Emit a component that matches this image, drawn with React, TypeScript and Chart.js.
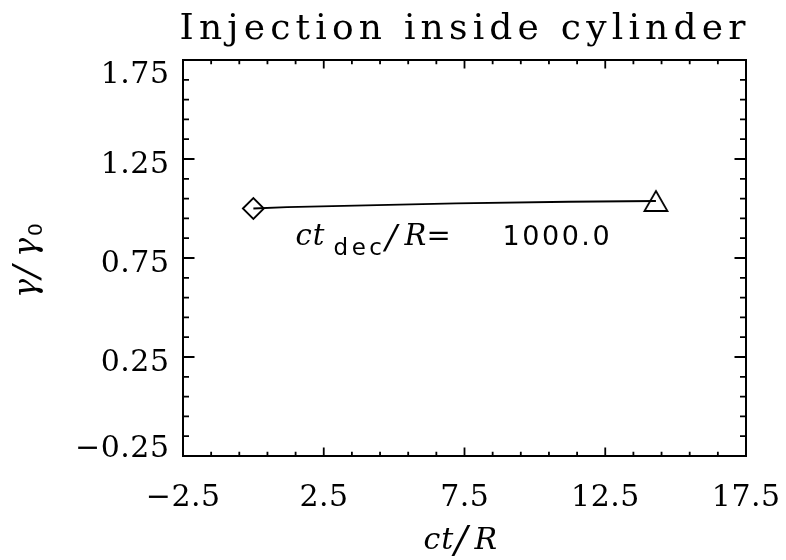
import React, { useEffect, useRef } from "react";
import { Chart, registerables } from "chart.js";

Chart.register(...registerables);

// ---- data ----
const ctOverR = [0, 1.2, 4.0, 7.2, 11.2, 14.3];
const gammaRatio = [1.0, 1.007, 1.016, 1.026, 1.034, 1.038];
const startMarker = [{ x: 0, y: 1.0 }];
const endMarker = [{ x: 14.3, y: 1.038 }];

const xRange = [-2.5, 17.5];
const yRange = [-0.25, 1.75];
const xTicks = [-2.5, 2.5, 7.5, 12.5, 17.5];
const yTicks = [-0.25, 0.25, 0.75, 1.25, 1.75];
const xTickLabels = ["\u22122.5", "2.5", "7.5", "12.5", "17.5"];
const yTickLabels = ["\u22120.25", "0.25", "0.75", "1.25", "1.75"];
const minorPerMajor = 5;

const titleText = "Injection inside cylinder";
const decValue = "1000.0";
const annotationAt = { x: 1.5, y: 0.816 };

const SERIF = '"DejaVu Serif", "Liberation Serif", serif';
const SANS = '"DejaVu Sans", "Liberation Sans", sans-serif';

function drawSpaced(
  ctx: CanvasRenderingContext2D,
  text: string,
  x: number,
  y: number,
  ls: number,
  align: "left" | "center" | "right"
) {
  const chars = Array.from(text);
  ctx.textAlign = "left";
  let w = 0;
  const widths = chars.map((c) => ctx.measureText(c).width);
  widths.forEach((cw) => (w += cw));
  w += ls * (chars.length - 1);
  let cx = align === "center" ? x - w / 2 : align === "right" ? x - w : x;
  chars.forEach((c, i) => {
    ctx.fillText(c, cx, y);
    cx += widths[i] + ls;
  });
  return w;
}

function makeTriangle() {
  const c = document.createElement("canvas");
  c.width = 28;
  c.height = 24;
  const g = c.getContext("2d")!;
  g.strokeStyle = "#000";
  g.lineWidth = 1.8;
  g.beginPath();
  g.moveTo(14, 2);
  g.lineTo(25.5, 22);
  g.lineTo(2.5, 22);
  g.closePath();
  g.stroke();
  return c;
}

const framePlugin = {
  id: "idlFrame",
  afterDraw(chart: any) {
    const ctx: CanvasRenderingContext2D = chart.ctx;
    const { left, right, top, bottom } = chart.chartArea;
    const xs = chart.scales.x;
    const ys = chart.scales.y;
    ctx.save();
    ctx.strokeStyle = "#000";
    ctx.fillStyle = "#000";
    ctx.lineWidth = 2;
    ctx.strokeRect(left, top, right - left, bottom - top);

    // ticks (inward, on all four sides)
    ctx.lineWidth = 1.8;
    const xMaj = 8.5, xMin = 4.2, yMaj = 11.5, yMin = 6;
    ctx.beginPath();
    for (let i = 0; i < xTicks.length; i++) {
      const px = xs.getPixelForValue(xTicks[i]);
      ctx.moveTo(px, bottom); ctx.lineTo(px, bottom - xMaj);
      ctx.moveTo(px, top); ctx.lineTo(px, top + xMaj);
      if (i < xTicks.length - 1) {
        const step = (xTicks[i + 1] - xTicks[i]) / minorPerMajor;
        for (let k = 1; k < minorPerMajor; k++) {
          const mx = xs.getPixelForValue(xTicks[i] + k * step);
          ctx.moveTo(mx, bottom); ctx.lineTo(mx, bottom - xMin);
          ctx.moveTo(mx, top); ctx.lineTo(mx, top + xMin);
        }
      }
    }
    for (let i = 0; i < yTicks.length; i++) {
      const py = ys.getPixelForValue(yTicks[i]);
      ctx.moveTo(left, py); ctx.lineTo(left + yMaj, py);
      ctx.moveTo(right, py); ctx.lineTo(right - yMaj, py);
      if (i < yTicks.length - 1) {
        const step = (yTicks[i + 1] - yTicks[i]) / minorPerMajor;
        for (let k = 1; k < minorPerMajor; k++) {
          const my = ys.getPixelForValue(yTicks[i] + k * step);
          ctx.moveTo(left, my); ctx.lineTo(left + yMin, my);
          ctx.moveTo(right, my); ctx.lineTo(right - yMin, my);
        }
      }
    }
    ctx.stroke();

    ctx.textBaseline = "alphabetic";
    // title
    ctx.font = `36px ${SERIF}`;
    drawSpaced(ctx, titleText, (left + right) / 2 - 2, 38.5, 5.2, "center");

    // tick labels
    ctx.font = `30px ${SERIF}`;
    xTicks.forEach((v, i) => {
      drawSpaced(ctx, xTickLabels[i], xs.getPixelForValue(v), 505.5, 0.5, "center");
    });
    yTicks.forEach((v, i) => {
      const py = ys.getPixelForValue(v);
      const base = Math.max(Math.min(py + 14, bottom + 0.5), top + 23);
      drawSpaced(ctx, yTickLabels[i], left - 14, base, 0.5, "right");
    });

    // x title: ct/R
    const cx = (left + right) / 2;
    ctx.font = `italic 30px ${SERIF}`;
    drawSpaced(ctx, "ct", cx - 41, 549, 1, "left");
    ctx.font = `italic 38px ${SERIF}`;
    drawSpaced(ctx, "/", cx - 10, 552, 0, "left");
    ctx.font = `italic 30px ${SERIF}`;
    drawSpaced(ctx, "R", cx + 10, 549, 0, "left");

    // y title: γ/γ0 (rotated)
    const cy = (top + bottom) / 2;
    ctx.save();
    ctx.translate(36, cy + 40);
    ctx.rotate(-Math.PI / 2);
    ctx.font = `italic 32px ${SERIF}`;
    drawSpaced(ctx, "\u03B3", 0, 0, 0, "left");
    ctx.font = `italic 36px ${SERIF}`;
    drawSpaced(ctx, "/", 20, 2, 0, "left");
    ctx.font = `italic 32px ${SERIF}`;
    drawSpaced(ctx, "\u03B3", 41, 0, 0, "left");
    ctx.font = `20px ${SANS}`;
    drawSpaced(ctx, "0", 62, 6, 0, "left");
    ctx.restore();

    // annotation
    const ax = xs.getPixelForValue(annotationAt.x);
    const ay = ys.getPixelForValue(annotationAt.y);
    ctx.font = `italic 29px ${SERIF}`;
    drawSpaced(ctx, "ct", ax, ay, 1, "left");
    ctx.font = `23px ${SANS}`;
    drawSpaced(ctx, "dec", ax + 38, ay + 10, 3.5, "left");
    ctx.font = `italic 34px ${SERIF}`;
    drawSpaced(ctx, "/", ax + 90, ay + 4, 0, "left");
    ctx.font = `italic 29px ${SERIF}`;
    drawSpaced(ctx, "R", ax + 109, ay, 0, "left");
    ctx.font = `29px ${SERIF}`;
    drawSpaced(ctx, "=", ax + 131, ay, 0, "left");
    ctx.font = `27px ${SANS}`;
    drawSpaced(ctx, decValue, ax + 207, ay, 2.5, "left");

    ctx.restore();
  },
};

export default function App() {
  const ref = useRef<HTMLCanvasElement | null>(null);
  useEffect(() => {
    if (!ref.current) return;
    const chart = new Chart(ref.current, {
      type: "scatter",
      data: {
        datasets: [
          {
            data: ctOverR.map((x, i) => ({ x, y: gammaRatio[i] })),
            showLine: true,
            borderColor: "#000",
            borderWidth: 1.8,
            pointRadius: 0,
            tension: 0,
          },
          {
            data: startMarker,
            pointStyle: "rectRot",
            pointRadius: 10.5,
            borderColor: "#000",
            borderWidth: 1.8,
            backgroundColor: "rgba(0,0,0,0)",
          },
          {
            data: endMarker,
            pointStyle: makeTriangle() as any,
            pointRadius: 12,
            borderColor: "#000",
            backgroundColor: "rgba(0,0,0,0)",
          },
        ],
      },
      options: {
        responsive: false,
        animation: false,
        devicePixelRatio: 1,
        layout: { padding: { left: 183, right: 40, top: 60, bottom: 104 } },
        plugins: { legend: { display: false }, tooltip: { enabled: false } },
        scales: {
          x: { type: "linear", min: xRange[0], max: xRange[1], display: false },
          y: { type: "linear", min: yRange[0], max: yRange[1], display: false },
        },
      },
      plugins: [framePlugin],
    });
    return () => chart.destroy();
  }, []);
  return (
    <canvas
      ref={ref}
      width={786}
      height={560}
      style={{ position: "absolute", left: 0, top: 0, width: 786, height: 560, background: "#fff" }}
    />
  );
}
